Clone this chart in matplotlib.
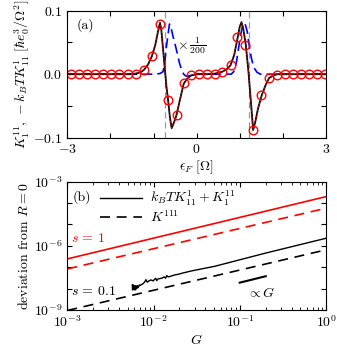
import numpy as np
import matplotlib
matplotlib.use('Agg')
import matplotlib.pyplot as plt

plt.rcParams['font.family'] = 'serif'
plt.rcParams['font.serif'] = ['cmr10', 'DejaVu Serif']
plt.rcParams['mathtext.fontset'] = 'cm'
plt.rcParams['axes.formatter.use_mathtext'] = True
plt.rcParams['font.size'] = 10

# ---- panel (a) data ----
# K curve (black line with red dashes)
eps = [-3.0, -1.6, -1.41, -1.3, -1.22, -1.13, -1.04, -0.96, -0.90, -0.85, -0.82, -0.78,
       -0.74, -0.70, -0.66, -0.62, -0.58, -0.55, -0.51, -0.47, -0.42, -0.37, -0.30, -0.22,
       -0.13, 0.0, 0.24, 0.43, 0.60, 0.70, 0.785, 0.87, 0.955, 1.00, 1.04, 1.08, 1.14,
       1.20, 1.26, 1.31, 1.36, 1.42, 1.51, 1.60, 1.68, 1.78, 1.87, 2.0, 3.0]
K = [0, 0, 0.001, 0.003, 0.007, 0.015, 0.028, 0.046, 0.066, 0.081, 0.070, 0.040,
     0.010, -0.020, -0.042, -0.068, -0.085, -0.080, -0.073, -0.065, -0.050, -0.035, -0.015, -0.007,
     -0.002, 0, 0, 0.001, 0.004, 0.008, 0.014, 0.030, 0.059, 0.075, 0.082, 0.072, 0.046,
     0.005, -0.045, -0.088, -0.075, -0.055, -0.033, -0.017, -0.006, -0.002, 0, 0, 0]

# -k_B T K (red circles)
eps_circ = [-2.907, -2.721, -2.536, -2.351, -2.165, -1.980, -1.795, -1.594, -1.409,
            -1.223, -1.038, -0.853, -0.66, -0.467, -0.297, -0.127, 0.058, 0.244, 0.429,
            0.599, 0.785, 0.94, 1.12, 1.31, 1.50, 1.680, 1.865, 2.050, 2.236, 2.421,
            2.606, 2.792, 2.977]
K_circ = [0, 0, 0, 0, 0, 0, 0, 0, 0.0005,
          0.006, 0.028, 0.079, -0.041, -0.065, -0.014, -0.002, 0, 0, 0.001,
          0.003, 0.014, 0.059, 0.046, -0.088, -0.033, -0.006, -0.001, 0, 0, 0,
          0, 0, 0]

# scaled K^111 (blue dashed, x 1/200)
eps_blue = [-3.0, -1.0, -0.85, -0.78, -0.74, -0.71, -0.67, -0.63, -0.59, -0.55, -0.50,
            -0.45, -0.40, -0.35, -0.30, -0.25, -0.18, -0.10, 0.0, 0.60, 0.80, 0.86, 0.92,
            0.97, 1.02, 1.07, 1.12, 1.17, 1.22, 1.27, 1.33, 1.40, 1.48, 1.60, 3.0]
K_blue = [0, 0, 0.001, 0.004, 0.018, 0.038, 0.060, 0.079, 0.072, 0.060, 0.047,
          0.033, 0.018, 0.007, 0.0, -0.003, -0.003, -0.001, 0, 0, 0.0, 0.004, 0.018,
          0.040, 0.062, 0.078, 0.080, 0.068, 0.045, 0.025, 0.010, 0.003, 0.0, 0, 0]

resonances = [-0.737, 1.21]

# ---- panel (b) data ----
G_line = [1e-3, 1.0]
s1_solid = [2.45e-7, 2.0e-4]
s1_dashed = [8.3e-8, 5.75e-5]
s01_dashed = [9.5e-10, 6.5e-7]

G_s01 = [0.00567, 0.00571, 0.00582, 0.00593, 0.00604, 0.00614, 0.00625, 0.00637, 0.00648,
         0.00665, 0.00684, 0.00696, 0.00714, 0.00760, 0.00795, 0.00816, 0.00846, 0.00885,
         0.00933, 0.00993, 0.0102, 0.0106, 0.0109, 0.0113, 0.0124, 0.0133, 0.0138, 0.0142,
         0.0148, 0.0162, 0.0177, 0.0194, 0.0221, 0.0276, 0.0360, 0.0514, 0.2, 1.0]
s01_solid = [1.49e-8, 8.7e-9, 1.49e-8, 8.7e-9, 1.39e-8, 8.7e-9, 1.34e-8, 9.7e-9, 1.39e-8,
             1.12e-8, 1.49e-8, 1.39e-8, 1.49e-8, 1.72e-8, 2.13e-8, 2.64e-8, 1.99e-8, 2.29e-8,
             2.55e-8, 2.29e-8, 2.64e-8, 3.05e-8, 2.38e-8, 2.84e-8, 3.05e-8, 3.52e-8, 3.05e-8, 4.06e-8,
             3.52e-8, 3.92e-8, 4.37e-8, 4.69e-8, 5.42e-8, 6.72e-8, 8.33e-8, 1.11e-7, 4.6e-7, 2.26e-6]

G_guide = [0.1, 0.2]
guide = [1.9e-8, 3.8e-8]

fig = plt.figure(figsize=(3.37, 3.48), dpi=100)
ax1 = fig.add_axes([0.1997, 0.6043, 0.7677, 0.365])
ax2 = fig.add_axes([0.1997, 0.1092, 0.7677, 0.3687])

# panel (a)
for r in resonances:
    ax1.axvline(r, color='#999999', ls='--', lw=0.9, dashes=(5, 3))
ax1.plot(eps_blue, K_blue, color='blue', ls='--', lw=1.2, dashes=(6, 3))
ax1.plot(eps, K, color='black', lw=1.3)
ax1.plot(eps, K, color='red', ls='--', lw=0.6, dashes=(2, 2))
ax1.plot(eps_circ, K_circ, 'o', mfc='none', mec='red', ms=6.2, mew=1.0)
ax1.set_xlim(-3, 3)
ax1.set_ylim(-0.1, 0.1)
ax1.set_xticks([-3, -2, -1, 0, 1, 2, 3])
ax1.set_xticklabels(['$-3$', '', '', '$0$', '', '', '$3$'])
ax1.set_yticks([-0.1, -0.05, 0, 0.05, 0.1])
ax1.set_yticklabels(['$-0.1$', '', '$0.0$', '', '$0.1$'])
ax1.tick_params(direction='in', top=True, right=True, length=3.5, width=0.8)
ax1.set_xlabel(r'$\epsilon_F\ [\Omega]$', labelpad=2)
ax1.set_ylabel(r'$K_1^{11},\,-k_BTK_{11}^1\ [\hbar e_0^3/\Omega^2]$', labelpad=1)
ax1.text(0.035, 0.86, '(a)', transform=ax1.transAxes)
ax1.text(-0.46, 0.045, r'$\times\,\frac{1}{200}$', va='center')

# panel (b)
ax2.plot(G_line, s1_solid, color='red', lw=1.2)
ax2.plot(G_line, s1_dashed, color='red', lw=1.2, ls='--', dashes=(6, 4))
ax2.plot(G_s01, s01_solid, color='black', lw=1.0, label=r'$k_BTK_{11}^1+K_1^{11}$')
ax2.plot(G_line, s01_dashed, color='black', lw=1.2, ls='--', dashes=(6, 4), label=r'$K^{111}$')
ax2.plot(G_guide, guide, color='black', lw=1.5)
ax2.set_xscale('log')
ax2.set_yscale('log')
ax2.set_xlim(1e-3, 1)
ax2.set_ylim(1e-9, 1e-3)
ax2.set_yticks([1e-9, 1e-8, 1e-7, 1e-6, 1e-5, 1e-4, 1e-3])
ax2.set_yticklabels([r'$10^{-9}$', '', '', r'$10^{-6}$', '', '', r'$10^{-3}$'])
ax2.set_xticks([1e-3, 1e-2, 1e-1, 1])
ax2.set_xticklabels([r'$10^{-3}$', r'$10^{-2}$', r'$10^{-1}$', r'$10^{0}$'])
ax2.tick_params(which='both', direction='in', top=True, right=True)
ax2.tick_params(which='major', length=3.5, width=0.8)
ax2.tick_params(which='minor', length=2, width=0.6)
ax2.set_xlabel('$G$', labelpad=2)
ax2.set_ylabel('deviation from $R=0$', labelpad=2)
ax2.text(0.02, 0.85, '(b)', transform=ax2.transAxes)
ax2.legend(loc='upper left', bbox_to_anchor=(0.08, 1.04), frameon=False, fontsize=10,
           handlelength=3.0, handletextpad=0.6, labelspacing=0.05)
ax2.text(1.1e-3, 1.5e-6, r'$s\,=\,1$', color='red')
ax2.text(1.1e-3, 4.8e-9, r'$s\,=\,0.1$', color='black')
ax2.text(0.12, 4.0e-9, r'$\propto G$')

fig.savefig('out.png', dpi=100)
